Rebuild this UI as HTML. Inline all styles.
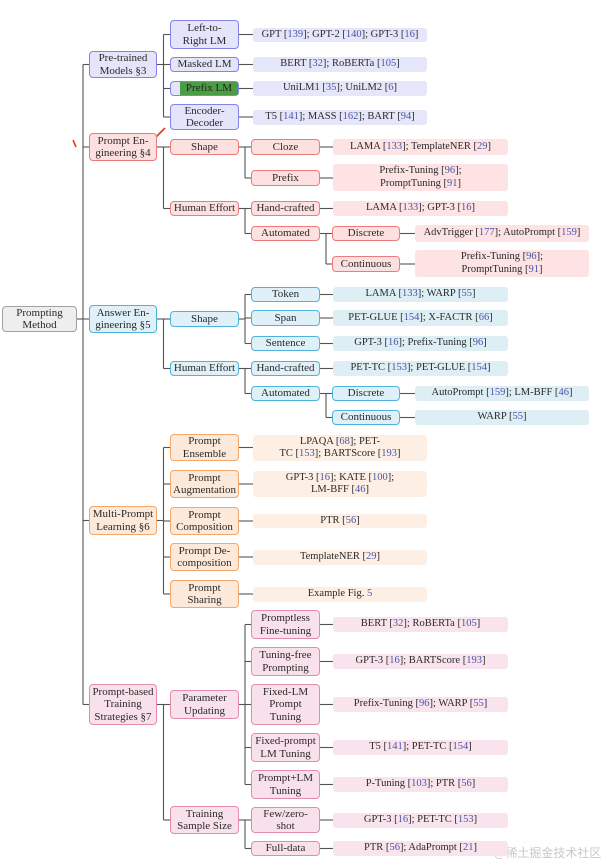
<!DOCTYPE html>
<html><head><meta charset="utf-8"><style>
html,body{margin:0;padding:0;background:#fff;}
#c{position:relative;width:614px;height:865px;overflow:hidden;font-family:"Liberation Serif",serif;color:#2a2a2a;}
.b{position:absolute;box-sizing:border-box;display:flex;align-items:center;justify-content:center;text-align:center;font-size:11px;line-height:12.5px;border:1.5px solid;border-radius:4px;}
.l{border:none;border-radius:3px;font-size:10.5px;}
.b span{color:#4a55a8;}
.P{border-color:#8484e6;background:#e4e4fa;}
.Pl{background:#e6e6fa;}
.R{border-color:#ec7b7b;background:#fde0e0;}
.Rl{background:#fde3e3;}
.C{border-color:#4fb4dc;background:#dff0f8;}
.Cl{background:#ddeef5;}
.O{border-color:#f2a86c;background:#fde9d9;}
.Ol{background:#fdefe3;}
.K{border-color:#e38cad;background:#f9e1eb;}
.Kl{background:#f9e4ed;}
.G{border-color:#a0a0a0;background:#eeeeee;}
.gr{position:absolute;left:9px;right:0;top:0;bottom:0;background:#4a9d45;display:flex;align-items:center;justify-content:center;color:#222;}
svg{position:absolute;left:0;top:0;}
#wm{position:absolute;left:494px;top:844px;font-family:"Noto Sans CJK SC",sans-serif;font-size:12px;color:#c8c8c8;}
</style></head><body><div id="c"><svg id="s" width="614" height="865"></svg><div id="wm">@稀土掘金技术社区</div></div>
<script>
var c=document.getElementById('c'),s=document.getElementById('s');
function N(t,x1,y1,x2,y2,cl,k){return {t:t,x1:x1,y1:y1,x2:x2,y2:y2,cl:cl,k:k||[]};}
var A=[89,157],B=[170,239],C3=[251,320],D=[332,400];
var PL=[253,427],RL=[333,508],DL=[415,589];
function n(t,xx,y1,y2,cl,k){return N(t,xx[0],y1,xx[1],y2,cl,k);}
function lf(t,xx,y1,y2,cl){var o=N(t,xx[0],y1,xx[1],y2,cl+' l',[]);o.leaf=1;return o;}
var tree=N('Prompting<br>Method',2,306,77,332,'G',[
 n('Pre-trained<br>Models §3',A,51,78,'P',[
  n('Left-to-<br>Right LM',B,20,49,'P',[lf('GPT [139]; GPT-2 [140]; GPT-3 [16]',PL,28,42,'Pl')]),
  n('Masked LM',B,57,72,'P',[lf('BERT [32]; RoBERTa [105]',PL,57,72,'Pl')]),
  n('<div class="gr">Prefix LM</div>',B,81,96,'P',[lf('UniLM1 [35]; UniLM2 [6]',PL,81,96,'Pl')]),
  n('Encoder-<br>Decoder',B,104,130,'P',[lf('T5 [141]; MASS [162]; BART [94]',PL,110,125,'Pl')])
 ]),
 n('Prompt En-<br>gineering §4',A,133,161,'R',[
  n('Shape',B,139,155,'R',[
   n('Cloze',C3,139,155,'R',[lf('LAMA [133]; TemplateNER [29]',RL,139,155,'Rl')]),
   n('Prefix',C3,170,186,'R',[lf('Prefix-Tuning [96];<br>PromptTuning [91]',RL,164,191,'Rl')])
  ]),
  n('Human Effort',B,201,216,'R',[
   n('Hand-crafted',C3,201,216,'R',[lf('LAMA [133]; GPT-3 [16]',RL,201,216,'Rl')]),
   n('Automated',C3,226,241,'R',[
    n('Discrete',D,226,241,'R',[lf('AdvTrigger [177]; AutoPrompt [159]',DL,225,242,'Rl')]),
    n('Continuous',D,256,272,'R',[lf('Prefix-Tuning [96];<br>PromptTuning [91]',DL,250,277,'Rl')])
   ])
  ])
 ]),
 n('Answer En-<br>gineering §5',A,305,333,'C',[
  n('Shape',B,311,327,'C',[
   n('Token',C3,287,302,'C',[lf('LAMA [133]; WARP [55]',RL,287,302,'Cl')]),
   n('Span',C3,310,326,'C',[lf('PET-GLUE [154]; X-FACTR [66]',RL,310,326,'Cl')]),
   n('Sentence',C3,336,351,'C',[lf('GPT-3 [16]; Prefix-Tuning [96]',RL,336,351,'Cl')])
  ]),
  n('Human Effort',B,361,376,'C',[
   n('Hand-crafted',C3,361,376,'C',[lf('PET-TC [153]; PET-GLUE [154]',RL,361,376,'Cl')]),
   n('Automated',C3,386,401,'C',[
    n('Discrete',D,386,401,'C',[lf('AutoPrompt [159]; LM-BFF [46]',DL,386,401,'Cl')]),
    n('Continuous',D,410,425,'C',[lf('WARP [55]',DL,410,425,'Cl')])
   ])
  ])
 ]),
 n('Multi-Prompt<br>Learning §6',A,506,535,'O',[
  n('Prompt<br>Ensemble',B,434,461,'O',[lf('LPAQA [68]; PET-<br>TC [153]; BARTScore [193]',PL,435,461,'Ol')]),
  n('Prompt<br>Augmentation',B,470,498,'O',[lf('GPT-3 [16]; KATE [100];<br>LM-BFF [46]',PL,471,497,'Ol')]),
  n('Prompt<br>Composition',B,507,535,'O',[lf('PTR [56]',PL,514,528,'Ol')]),
  n('Prompt De-<br>composition',B,543,571,'O',[lf('TemplateNER [29]',PL,550,565,'Ol')]),
  n('Prompt<br>Sharing',B,580,608,'O',[lf('Example Fig. [5]',PL,587,602,'Ol')])
 ]),
 n('Prompt-based<br>Training<br>Strategies §7',A,684,725,'K',[
  n('Parameter<br>Updating',B,690,719,'K',[
   n('Promptless<br>Fine-tuning',C3,610,639,'K',[lf('BERT [32]; RoBERTa [105]',RL,617,632,'Kl')]),
   n('Tuning-free<br>Prompting',C3,647,676,'K',[lf('GPT-3 [16]; BARTScore [193]',RL,654,669,'Kl')]),
   n('Fixed-LM<br>Prompt<br>Tuning',C3,684,725,'K',[lf('Prefix-Tuning [96]; WARP [55]',RL,697,712,'Kl')]),
   n('Fixed-prompt<br>LM Tuning',C3,733,762,'K',[lf('T5 [141]; PET-TC [154]',RL,740,755,'Kl')]),
   n('Prompt+LM<br>Tuning',C3,770,799,'K',[lf('P-Tuning [103]; PTR [56]',RL,777,792,'Kl')])
  ]),
  n('Training<br>Sample Size',B,806,834,'K',[
   n('Few/zero-<br>shot',C3,807,833,'K',[lf('GPT-3 [16]; PET-TC [153]',RL,813,828,'Kl')]),
   n('Full-data',C3,841,856,'K',[lf('PTR [56]; AdaPrompt [21]',RL,841,856,'Kl')])
  ])
 ])
]);
var svg='';
function ln(a,b,x,y){svg+='<line x1="'+a+'" y1="'+b+'" x2="'+x+'" y2="'+y+'" stroke="#555" stroke-width="1.1"/>';}
function draw(o){
 var d=document.createElement('div');d.className='b '+o.cl;
 d.style.left=o.x1+'px';d.style.top=o.y1+'px';d.style.width=(o.x2-o.x1)+'px';d.style.height=(o.y2-o.y1)+'px';
 var t=o.t.replace(/\[(\d+)\]/g,'[<span>$1</span>]').replace('Fig. [<span>5</span>]','Fig. <span>5</span>');
 d.innerHTML='<div>'+t+'</div>';c.appendChild(d);
 if(o.k.length){
  var cy=(o.y1+o.y2)/2;
  if(o.k.length==1&&o.k[0].leaf){ln(o.x2,cy,o.k[0].x1,cy);draw(o.k[0]);return;}
  var mx=(o.x2+o.k[0].x1)/2,mn=1e9,mxy=-1e9;
  ln(o.x2,cy,mx,cy);
  o.k.forEach(function(k){var ky=(k.y1+k.y2)/2;mn=Math.min(mn,ky);mxy=Math.max(mxy,ky);ln(mx,ky,k.x1,ky);draw(k);});
  mn=Math.min(mn,cy);mxy=Math.max(mxy,cy);
  ln(mx,mn,mx,mxy);
 }
}
draw(tree);
svg+='<line x1="73" y1="140" x2="76" y2="147" stroke="#e8401c" stroke-width="1.6"/><line x1="148" y1="145" x2="165" y2="128" stroke="#e8401c" stroke-width="1.8"/>';
s.innerHTML=svg;
</script></body></html>
